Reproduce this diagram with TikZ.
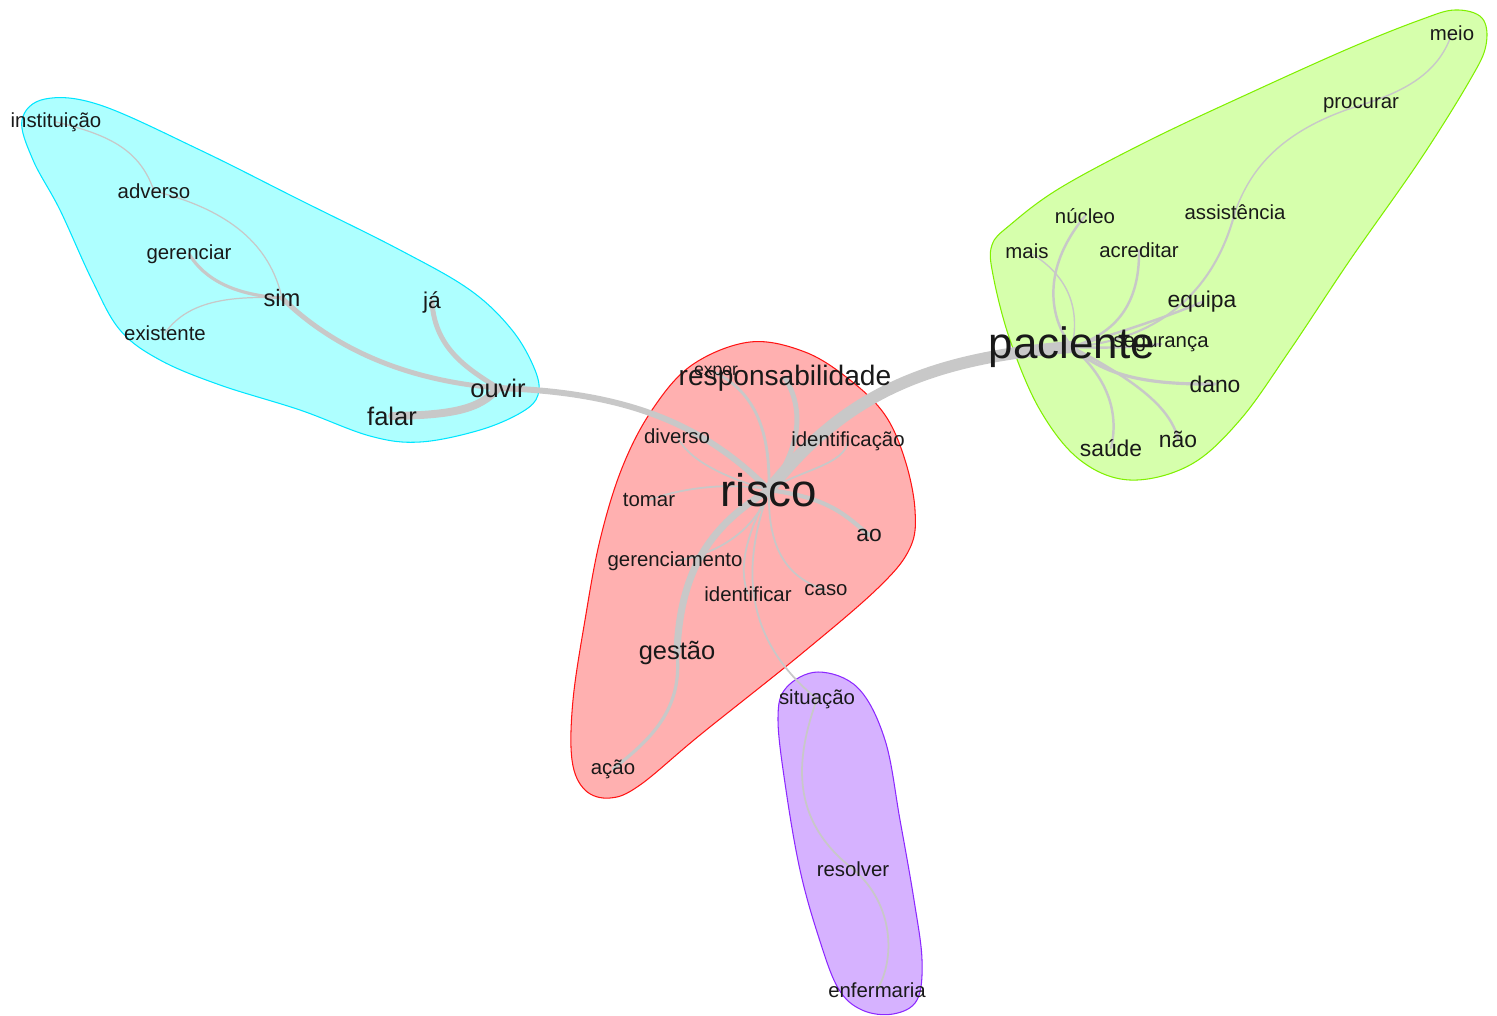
\documentclass[tikz,border=0pt]{standalone}
\usepackage{fontspec}
\setmainfont{Liberation Sans}
\usepackage{xcolor}
\usetikzlibrary{backgrounds}
\definecolor{ciano}{RGB}{174,255,255}
\definecolor{cianob}{RGB}{0,230,255}
\definecolor{verde}{RGB}{214,255,172}
\definecolor{verdeb}{RGB}{128,240,0}
\definecolor{rosa}{RGB}{255,176,176}
\definecolor{rosab}{RGB}{255,20,20}
\definecolor{lilas}{RGB}{214,178,255}
\definecolor{lilasb}{RGB}{140,40,255}
\definecolor{aresta}{RGB}{200,200,200}
\pgfdeclarelayer{arestas}
\pgfsetlayers{background,arestas,main}
\tikzset{
  palavra/.style={inner sep=0pt, text=black!90, font=\fontsize{11.6}{11.6}\selectfont},
  media/.style={palavra, font=\fontsize{13}{13}\selectfont},
  grande/.style={palavra, font=\fontsize{14.5}{14.5}\selectfont},
  enorme/.style={palavra, font=\fontsize{25}{25}\selectfont},
  lig/.style={draw=aresta, line width=1pt, line cap=round},
}

\begin{document}
\begin{tikzpicture}[x=0.02cm, y=-0.02cm]
\useasboundingbox (0,0) rectangle (1497,1015);

% Grupos
\begin{pgfonlayer}{background}
\filldraw[fill=ciano, draw=cianob, line width=0.6pt] plot[smooth cycle, tension=0.6] coordinates {
  (22,120) (45,99) (100,105) (200,150) (300,200) (400,250) (470,290) (512,330)
  (535,370) (538,395) (522,412) (480,430) (420,442) (370,436) (300,410)
  (220,385) (160,360) (120,330) (92,280) (60,210) (33,160)};
\filldraw[fill=verde, draw=verdeb, line width=0.6pt] plot[smooth cycle, tension=0.6] coordinates {
  (1455,10) (1482,18) (1486,45) (1470,80) (1420,160) (1350,260) (1290,350)
  (1240,420) (1190,465) (1130,480) (1080,460) (1040,410) (1010,340) (993,275)
  (992,245) (1010,225) (1060,188) (1150,140) (1250,93) (1350,48) (1420,20)};
\filldraw[fill=rosa, draw=rosab, line width=0.6pt] plot[smooth cycle, tension=0.6] coordinates {
  (750,342) (805,352) (850,380) (885,415) (905,460) (915,510) (910,548)
  (878,588) (800,655) (700,735) (640,785) (610,798) (585,790) (572,760)
  (573,700) (585,620) (600,540) (622,468) (652,410) (692,365)};
\filldraw[fill=lilas, draw=lilasb, line width=0.6pt] plot[smooth cycle, tension=0.6] coordinates {
  (818,672) (858,688) (885,740) (900,820) (914,900) (922,960) (917,1000)
  (893,1014) (862,1010) (838,988) (818,935) (800,870) (786,790) (778,720)
  (786,688)};
\end{pgfonlayer}

% Azul
\node[palavra] (instituicao) at (56,122) {instituição};
\node[palavra] (adverso) at (154,191) {adverso};
\node[palavra] (gerenciar) at (189,254) {gerenciar};
\node[grande, font=\fontsize{13.5}{13.5}\selectfont] (sim) at (282,298) {sim};
\node[palavra] (existente) at (165,333) {existente};
\node[media] (ja) at (432,302) {já};
\node[grande] (ouvir) at (498,388) {ouvir};
\node[grande] (falar) at (392,416) {falar};

% Verde
\node[palavra] (meio) at (1452,33) {meio};
\node[palavra] (procurar) at (1361,105) {procurar};
\node[palavra] (nucleo) at (1085,216) {núcleo};
\node[palavra] (assistencia) at (1235,212) {assistência};
\node[palavra] (mais) at (1027,251) {mais};
\node[palavra] (acreditar) at (1139,250) {acreditar};
\node[media] (equipa) at (1202,302) {equipa};
\node[palavra] (seguranca) at (1161,344) {segurança};
\node[enorme] (paciente) at (1072,347) {paciente};
\node[media] (dano) at (1215,384) {dano};
\node[media] (nao) at (1178,439) {não};
\node[media] (saude) at (1111,448) {saúde};

% Vermelho
\node[palavra, font=\fontsize{10}{10}\selectfont] (expor) at (716,373) {expor};
\node[palavra, font=\fontsize{16}{16}\selectfont] (responsabilidade) at (785,378) {responsabilidade};
\node[palavra] (diverso) at (677,436) {diverso};
\node[palavra] (identificacao) at (848,441) {identificação};
\node[palavra] (tomar) at (649,500) {tomar};
\node[enorme, font=\fontsize{26}{26}\selectfont] (risco) at (769,490) {risco};
\node[media] (ao) at (869,535) {ao};
\node[palavra] (gerenciamento) at (675,561) {gerenciamento};
\node[palavra] (identificar) at (748,594) {identificar};
\node[palavra] (caso) at (826,590) {caso};
\node[grande] (gestao) at (677,653) {gestão};
\node[palavra] (acao) at (613,769) {ação};

% Lilas
\node[palavra] (situacao) at (817,699) {situação};
\node[palavra] (resolver) at (853,869) {resolver};
\node[palavra] (enfermaria) at (877,990) {enfermaria};

\begin{pgfonlayer}{arestas}
\draw[lig, line width=6.8pt] (paciente.center) .. controls (920,358) and (840,400) .. (risco.center);
\draw[lig, line width=3.4pt] (ouvir.center) .. controls (620,392) and (700,420) .. (risco.center);
\draw[lig, line width=4pt] (risco.center) .. controls (720,520) and (680,560) .. (gestao.center);
\draw[lig, line width=1.8pt] (gestao.center) .. controls (683,710) and (650,740) .. (acao.center);
\draw[lig, line width=2.8pt] (responsabilidade.center) .. controls (805,410) and (800,450) .. (risco.center);
\draw[lig, line width=1.6pt] (expor.center) .. controls (760,395) and (770,440) .. (risco.center);
\draw[lig] (identificacao.center) .. controls (845,465) and (800,470) .. (risco.center);
\draw[lig] (diverso.center) .. controls (690,465) and (740,482) .. (risco.center);
\draw[lig] (tomar.center) .. controls (690,485) and (740,483) .. (risco.center);
\draw[lig, line width=2.4pt] (ao.center) .. controls (845,515) and (830,498) .. (risco.center);
\draw[lig] (gerenciamento.center) .. controls (730,552) and (760,520) .. (risco.center);
\draw[lig] (identificar.center) .. controls (735,560) and (755,520) .. (risco.center);
\draw[lig] (caso.center) .. controls (775,575) and (768,530) .. (risco.center);
\draw[lig] (risco.center) .. controls (740,570) and (745,640) .. (situacao.center);
\draw[lig] (situacao.center) .. controls (795,760) and (790,820) .. (resolver.center);
\draw[lig] (resolver.center) .. controls (895,905) and (895,960) .. (enfermaria.center);

\draw[lig, line width=2.8pt] (ouvir.center) .. controls (400,380) and (330,345) .. (sim.center);
\draw[lig, line width=2.8pt] (ja.center) .. controls (435,350) and (470,370) .. (ouvir.center);
\draw[lig, line width=4.5pt] (ouvir.center) .. controls (480,410) and (450,415) .. (falar.center);
\draw[lig, line width=1.8pt] (sim.center) .. controls (235,295) and (205,280) .. (gerenciar.center);
\draw[lig, line width=0.7pt] (sim.center) .. controls (220,295) and (185,305) .. (existente.center);
\draw[lig, line width=0.7pt] (sim.center) .. controls (270,245) and (230,210) .. (adverso.center);
\draw[lig, line width=0.7pt] (adverso.center) .. controls (140,150) and (110,135) .. (instituicao.center);

\draw[lig, line width=1.4pt] (nucleo.center) .. controls (1040,270) and (1050,320) .. (paciente.center);
\draw[lig, line width=0.8pt] (mais.center) .. controls (1070,275) and (1080,310) .. (paciente.center);
\draw[lig, line width=1.4pt] (acreditar.center) .. controls (1140,310) and (1110,335) .. (paciente.center);
\draw[lig, line width=1.4pt] (equipa.center) .. controls (1160,320) and (1110,335) .. (paciente.center);
\draw[lig, line width=1.2pt] (assistencia.center) .. controls (1215,290) and (1160,340) .. (paciente.center);
\draw[lig, line width=0.8pt] (procurar.center) .. controls (1280,130) and (1250,170) .. (assistencia.center);
\draw[lig, line width=0.8pt] (meio.center) .. controls (1440,70) and (1410,90) .. (procurar.center);
\draw[lig, line width=1.4pt] (seguranca.center) .. controls (1130,348) and (1100,348) .. (paciente.center);
\draw[lig, line width=1.8pt] (dano.center) .. controls (1130,385) and (1100,370) .. (paciente.center);
\draw[lig, line width=1.4pt] (nao.center) .. controls (1170,405) and (1130,378) .. (paciente.center);
\draw[lig, line width=1.4pt] (saude.center) .. controls (1120,410) and (1105,375) .. (paciente.center);
\end{pgfonlayer}
\end{tikzpicture}
\end{document}
